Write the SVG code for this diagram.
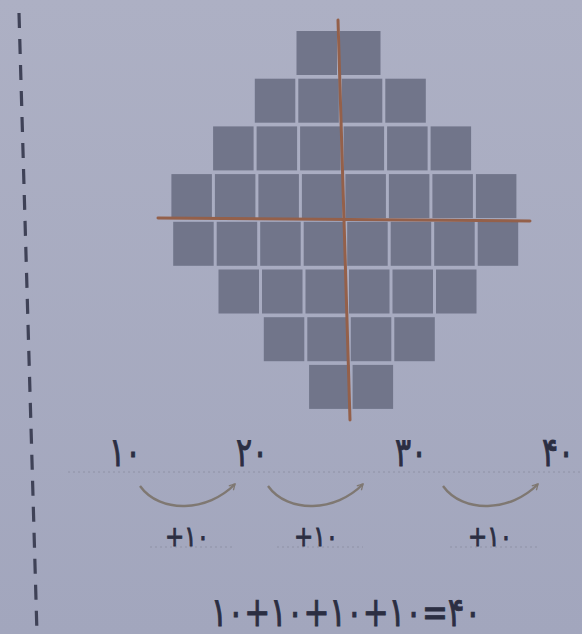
<svg xmlns="http://www.w3.org/2000/svg" width="582" height="634" viewBox="0 0 582 634">
<defs>
<linearGradient id="bg" x1="0" y1="0" x2="0" y2="1">
<stop offset="0" stop-color="#adb0c4"/>
<stop offset="1" stop-color="#a2a6bd"/>
</linearGradient>
<marker id="arr" viewBox="0 0 10 10" refX="8" refY="5" markerWidth="8" markerHeight="8" orient="auto" markerUnits="userSpaceOnUse">
<path d="M1,1 L8,5 L1,9" fill="none" stroke="#7f7872" stroke-width="1.6"/>
</marker>
</defs>
<style>
.c{fill:#71758a;}
.ax{stroke:#94604a;stroke-width:3;stroke-linecap:round;}
.num{font-family:"DejaVu Sans","Noto Sans",sans-serif;fill:#2b2e42;stroke:#2b2e42;stroke-width:0.7;direction:ltr;}
.big{font-size:30px;}
.sm{font-size:23px;}
.eq{font-size:31px;}
.dot{stroke:#8f92a6;stroke-width:1;stroke-dasharray:2 3;fill:none;}
.arc{fill:none;stroke:#7f7872;stroke-width:2.4;marker-end:url(#arr);}
</style>
<rect width="582" height="634" fill="url(#bg)"/>
<line x1="19" y1="13" x2="37" y2="634" stroke="#3f4257" stroke-width="3.2" stroke-dasharray="15 11"/>
<g id="grid">
<rect class="c" x="296.5" y="31" width="40.5" height="44"/><rect class="c" x="340" y="31" width="40.5" height="44"/>
<rect class="c" x="254.8" y="78.7" width="40.5" height="44"/><rect class="c" x="298.3" y="78.7" width="40.5" height="44"/><rect class="c" x="341.8" y="78.7" width="40.5" height="44"/><rect class="c" x="385.3" y="78.7" width="40.5" height="44"/>
<rect class="c" x="213.1" y="126.4" width="40.5" height="44"/><rect class="c" x="256.6" y="126.4" width="40.5" height="44"/><rect class="c" x="300.1" y="126.4" width="40.5" height="44"/><rect class="c" x="343.6" y="126.4" width="40.5" height="44"/><rect class="c" x="387.1" y="126.4" width="40.5" height="44"/><rect class="c" x="430.6" y="126.4" width="40.5" height="44"/>
<rect class="c" x="171.4" y="174.1" width="40.5" height="44"/><rect class="c" x="214.9" y="174.1" width="40.5" height="44"/><rect class="c" x="258.4" y="174.1" width="40.5" height="44"/><rect class="c" x="301.9" y="174.1" width="40.5" height="44"/><rect class="c" x="345.4" y="174.1" width="40.5" height="44"/><rect class="c" x="388.9" y="174.1" width="40.5" height="44"/><rect class="c" x="432.4" y="174.1" width="40.5" height="44"/><rect class="c" x="475.9" y="174.1" width="40.5" height="44"/>
<rect class="c" x="173.2" y="221.8" width="40.5" height="44"/><rect class="c" x="216.7" y="221.8" width="40.5" height="44"/><rect class="c" x="260.2" y="221.8" width="40.5" height="44"/><rect class="c" x="303.7" y="221.8" width="40.5" height="44"/><rect class="c" x="347.2" y="221.8" width="40.5" height="44"/><rect class="c" x="390.7" y="221.8" width="40.5" height="44"/><rect class="c" x="434.2" y="221.8" width="40.5" height="44"/><rect class="c" x="477.7" y="221.8" width="40.5" height="44"/>
<rect class="c" x="218.5" y="269.5" width="40.5" height="44"/><rect class="c" x="262" y="269.5" width="40.5" height="44"/><rect class="c" x="305.5" y="269.5" width="40.5" height="44"/><rect class="c" x="349" y="269.5" width="40.5" height="44"/><rect class="c" x="392.5" y="269.5" width="40.5" height="44"/><rect class="c" x="436" y="269.5" width="40.5" height="44"/>
<rect class="c" x="263.8" y="317.2" width="40.5" height="44"/><rect class="c" x="307.3" y="317.2" width="40.5" height="44"/><rect class="c" x="350.8" y="317.2" width="40.5" height="44"/><rect class="c" x="394.3" y="317.2" width="40.5" height="44"/>
<rect class="c" x="309.1" y="364.9" width="40.5" height="44"/><rect class="c" x="352.6" y="364.9" width="40.5" height="44"/>
</g>
<g id="axes">
<line class="ax" x1="338" y1="20" x2="350" y2="420"/>
<line class="ax" x1="158" y1="218" x2="530" y2="221"/>
</g>
<g id="guides">
<line class="dot" x1="68" y1="472" x2="580" y2="472"/>
<line class="dot" x1="150" y1="547" x2="233" y2="547"/>
<line class="dot" x1="277" y1="547" x2="363" y2="547"/>
<line class="dot" x1="450" y1="547" x2="537" y2="547"/>
</g>
<g id="n10"><text class="num big" transform="translate(125,466) scale(1,1.35)" text-anchor="middle">۱۰</text></g>
<g id="n20"><text class="num big" transform="translate(252,466) scale(1,1.35)" text-anchor="middle">۲۰</text></g>
<g id="n30"><text class="num big" transform="translate(411,466) scale(1,1.35)" text-anchor="middle">۳۰</text></g>
<g id="n40"><text class="num big" transform="translate(558,466) scale(1,1.35)" text-anchor="middle">۴۰</text></g>
<g id="connectors">
<path class="arc" d="M140,486 C160,514 208,512 235,484"/>
<path class="arc" d="M268,486 C288,514 336,512 363,484"/>
<path class="arc" d="M443,486 C463,514 511,512 538,484"/>
</g>
<g id="labels">
<text class="num sm" transform="translate(187,546) scale(1,1.25)" text-anchor="middle">+۱۰</text>
<text class="num sm" transform="translate(316,546) scale(1,1.25)" text-anchor="middle">+۱۰</text>
<text class="num sm" transform="translate(490,546) scale(1,1.25)" text-anchor="middle">+۱۰</text>
</g>
<g id="equation"><text class="num eq" transform="translate(346,626) scale(1,1.3)" text-anchor="middle">۱۰+۱۰+۱۰+۱۰=۴۰</text></g>
</svg>
